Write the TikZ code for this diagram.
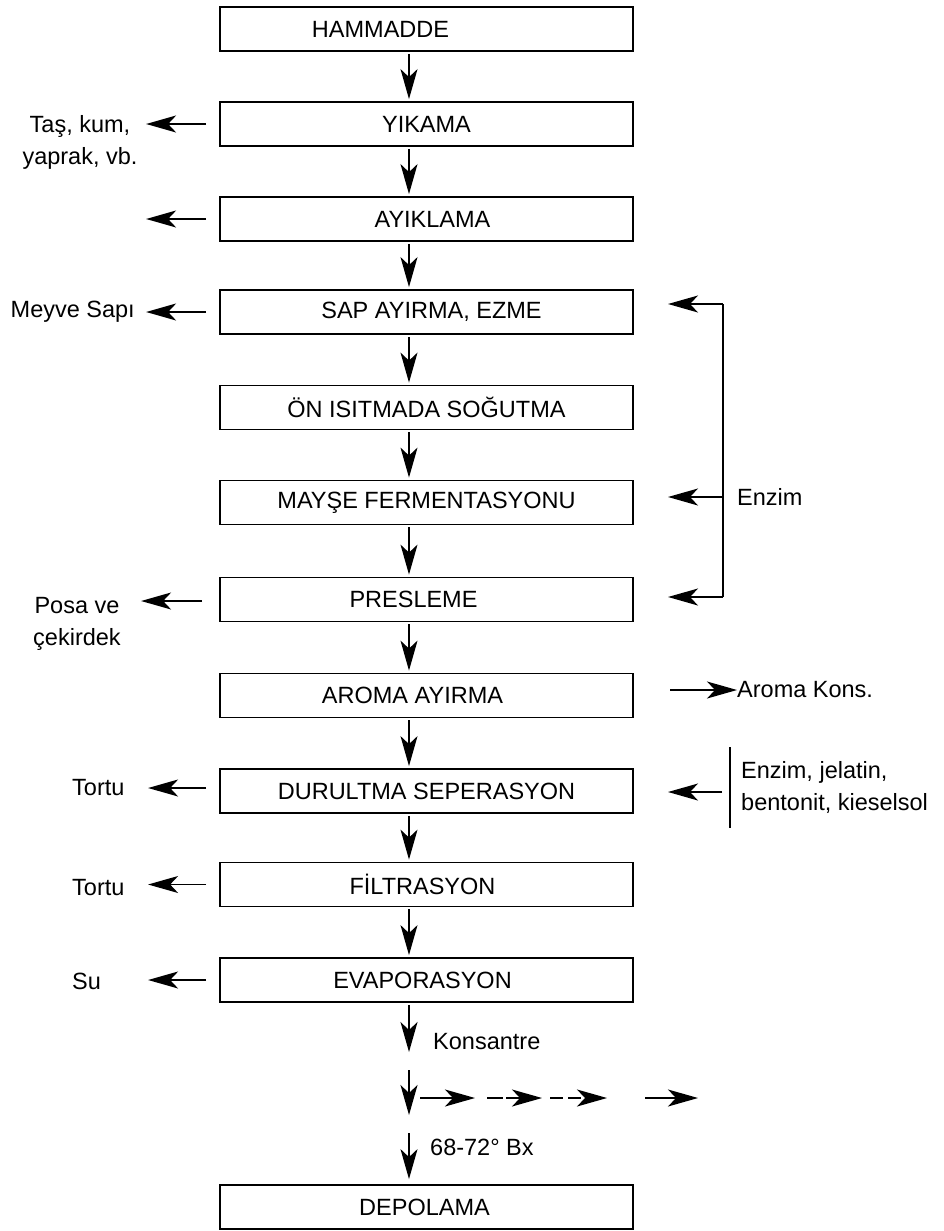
\documentclass[tikz,border=0pt]{standalone}
\usepackage{fontspec}
\setmainfont{Liberation Sans}
\usetikzlibrary{arrows.meta}
\begin{document}
\begin{tikzpicture}[x=1pt,y=-1pt,
  box/.style={draw,line width=1.8pt,minimum width=413pt,minimum height=44pt,inner sep=0pt,font=\fontsize{23.5}{28}\selectfont},
  lbl/.style={inner sep=0pt,font=\fontsize{23.5}{32}\selectfont,align=center},
  arr/.style={line width=1.5pt,-{Stealth[length=30pt,width=17pt,inset=8pt]}},
  brk/.style={line width=2pt}]
\useasboundingbox (0,0) rectangle (943,1231);
% process boxes
\node[box] (b1) at (426.5,29) {HAMMADDE\kern92pt};
\node[box] (b2) at (426.5,124) {YIKAMA};
\node[box] (b3) at (426.5,219) {\kern12pt AYIKLAMA};
\node[box] (b4) at (426.5,312) {\kern10pt SAP AYIRMA, EZME};
\node[box] (b5) at (426.5,407.5) {ÖN ISITMADA SOĞUTMA};
\node[box] (b6) at (426.5,502.5) {MAYŞE FERMENTASYONU};
\node[box] (b7) at (426.5,599.5) {PRESLEME\kern26pt};
\node[box] (b8) at (426.5,695.5) {AROMA AYIRMA\kern28pt};
\node[box] (b9) at (426.5,791) {DURULTMA SEPERASYON};
\node[box] (b10) at (426.5,884.5) {FİLTRASYON\kern8pt};
\node[box] (b11) at (426.5,980) {EVAPORASYON\kern8pt};
\node[box] (b12) at (426.5,1207) {DEPOLAMA\kern4pt};
% main axis
\coordinate (ax) at (409,0);
\foreach \a/\b in {b1/b2,b2/b3,b3/b4,b4/b5,b5/b6,b6/b7,b7/b8,b8/b9,b9/b10,b10/b11}{
  \draw[arr] ([yshift=-2pt]\a.south -| ax) -- ([yshift=2pt]\b.north -| ax);
}
\coordinate (k1) at (409,1052);
\coordinate (k2) at (409,1070);
\coordinate (k3) at (409,1115);
\coordinate (k4) at (409,1133);
\draw[arr] ([yshift=-2pt]b11.south -| ax) -- (k1);
\draw[arr] (k2) -- (k3);
\draw[arr] (k4) -- ([yshift=5pt]b12.north -| ax);
\node[lbl,anchor=west] (kons) at (433,1042) {Konsantre};
\node[lbl,anchor=west] (bx) at (430,1147) {68-72° Bx};
% side branch arrows at bottom
\coordinate (h1a) at (420,1098); \coordinate (h1b) at (475,1098);
\coordinate (h2a) at (487,1098); \coordinate (h2b) at (542,1098);
\coordinate (h3a) at (550,1098); \coordinate (h3b) at (607,1098);
\coordinate (h4a) at (645,1098); \coordinate (h4b) at (698,1098);
\draw[arr] (h1a) -- (h1b);
\draw[arr,dash pattern=on 16pt off 3pt] (h2a) -- (h2b);
\draw[arr,dash pattern=on 13pt off 5pt] (h3a) -- (h3b);
\draw[arr] (h4a) -- (h4b);
% left outputs
\node[lbl] (l2) at (80,142) {Taş, kum,\\yaprak, vb.};
\draw[arr] ([xshift=-13pt]b2.west) -- ++(-60,0) coordinate (l2a);
\draw[arr] ([xshift=-13pt]b3.west) -- ++(-60,0) coordinate (l3a);
\node[lbl,anchor=east] (l4) at (135,312) {Meyve Sapı};
\draw[arr] ([xshift=-13pt]b4.west) -- ++(-60,0) coordinate (l4a);
\node[lbl] (l7) at (77,624) {Posa ve\\çekirdek};
\draw[arr] ([xshift=-17pt,yshift=-1.5pt]b7.west) -- ++(-61,0) coordinate (l7a);
\node[lbl,anchor=west] (l9) at (72,788) {Tortu};
\draw[arr] ([xshift=-13pt,yshift=3pt]b9.west) -- ++(-58,0) coordinate (l9a);
\node[lbl,anchor=west] (l10) at (72,888) {Tortu};
\draw[arr] ([xshift=-13pt]b10.west) -- ++(-58,0) coordinate (l10a);
\node[lbl,anchor=west] (l11) at (72,981) {Su};
\draw[arr] ([xshift=-13pt]b11.west) -- ++(-58,0) coordinate (l11a);
% right: Enzim bracket
\coordinate (e1) at (723,304);
\coordinate (e2) at (723,497);
\coordinate (e3) at (723,597);
\draw[brk] (e1) -- (e3);
\draw[arr] (e1) -- (668,304);
\draw[arr] (e2) -- (668,497);
\draw[arr] (e3) -- (668,597);
\node[lbl,anchor=west] (enz) at (737,497) {Enzim};
% aroma
\node[lbl,anchor=west] (arom) at (737,690) {Aroma Kons.};
\draw[arr] (670,690) -- (arom.west);
% fining agents
\coordinate (f1) at (730,747);
\coordinate (f2) at (730,828);
\draw[brk] (f1) -- (f2);
\draw[arr] (722,792) -- (668,792);
\node[lbl,anchor=west,align=left] (fin) at (741,787) {Enzim, jelatin,\\bentonit, kieselsol};
\end{tikzpicture}
\end{document}
